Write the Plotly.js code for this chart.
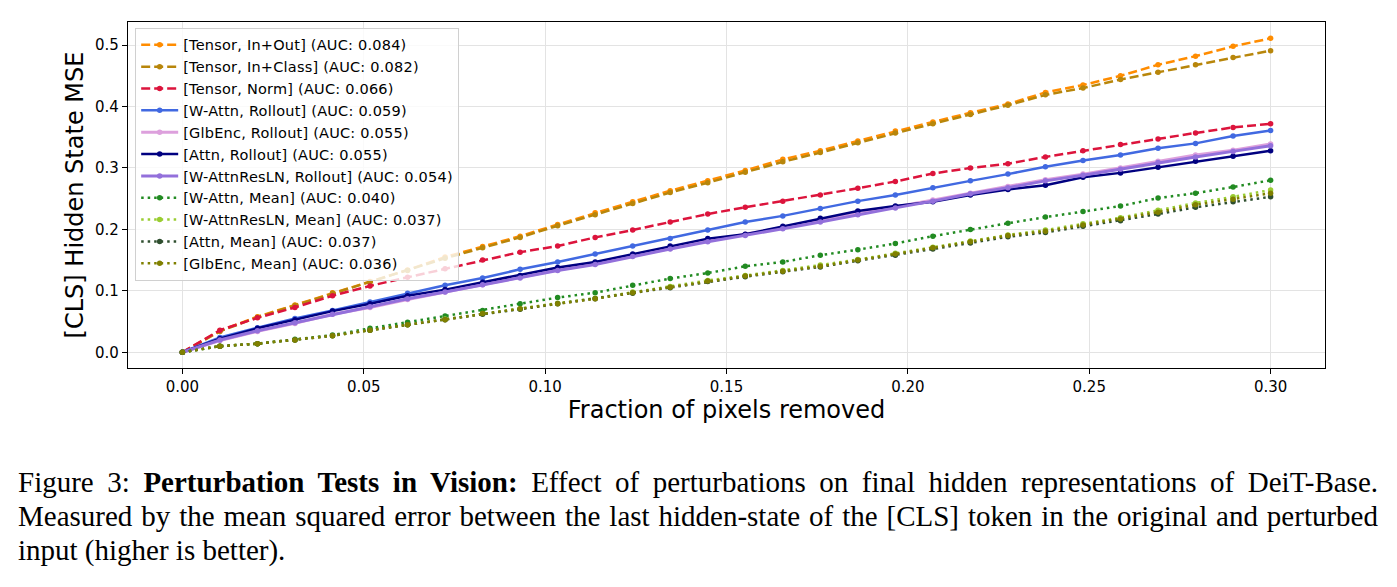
<!DOCTYPE html>
<html>
<head>
<meta charset="utf-8">
<script src="https://cdn.plot.ly/plotly-3.0.1.min.js"></script>
<style>
  html, body { margin: 0; padding: 0; background: #fff; }
  #wrap { position: relative; width: 1397px; height: 587px; overflow: hidden; }
  #chart { position: absolute; left: 0; top: 0; width: 1397px; height: 587px; }
  #caption { position: absolute; left: 18px; top: 465px; width: 1360px;
    font-family: "Liberation Serif", "DejaVu Serif", serif; font-size: 29px; line-height: 34px; color: #000; }
  .j { text-align: justify; text-align-last: justify; white-space: nowrap; }
  .l { text-align: left; white-space: nowrap; }
  .legendtext { letter-spacing: 0.22px; }
</style>
</head>
<body>
<div id="wrap">
  <div id="chart"></div>
  <div id="caption">
    <div class="j">Figure 3: <b>Perturbation Tests in Vision:</b> Effect of perturbations on final hidden representations of DeiT-Base.</div>
    <div class="j">Measured by the mean squared error between the last hidden-state of the [CLS] token in the original and perturbed</div>
    <div class="l">input (higher is better).</div>
  </div>
</div>
<script>
const fractions = [0, 0.01034, 0.02069, 0.03103, 0.04138, 0.05172, 0.06207, 0.07241, 0.08276, 0.09310,
  0.10345, 0.11379, 0.12414, 0.13448, 0.14483, 0.15517, 0.16552, 0.17586, 0.18621, 0.19655,
  0.20690, 0.21724, 0.22759, 0.23793, 0.24828, 0.25862, 0.26897, 0.27931, 0.28966, 0.30];

const tensorInOut = [0, 0.035, 0.058, 0.077, 0.097, 0.115, 0.134, 0.155, 0.172, 0.189, 0.208, 0.227, 0.245, 0.263, 0.279, 0.296, 0.314, 0.328, 0.344, 0.360, 0.375, 0.390, 0.404, 0.423, 0.435, 0.450, 0.468, 0.482, 0.498, 0.511];
const tensorInClass = [0, 0.034, 0.057, 0.076, 0.096, 0.114, 0.133, 0.153, 0.170, 0.187, 0.206, 0.224, 0.242, 0.260, 0.276, 0.293, 0.310, 0.325, 0.341, 0.357, 0.372, 0.387, 0.402, 0.419, 0.430, 0.444, 0.456, 0.468, 0.480, 0.491];
const tensorNorm = [0, 0.036, 0.056, 0.073, 0.092, 0.108, 0.122, 0.136, 0.150, 0.163, 0.173, 0.187, 0.199, 0.212, 0.225, 0.236, 0.246, 0.256, 0.267, 0.278, 0.291, 0.300, 0.307, 0.318, 0.328, 0.338, 0.347, 0.357, 0.366, 0.372];
const wAttnRollout = [0, 0.024, 0.040, 0.055, 0.068, 0.082, 0.096, 0.109, 0.121, 0.135, 0.147, 0.160, 0.173, 0.185, 0.199, 0.212, 0.222, 0.234, 0.246, 0.256, 0.268, 0.279, 0.290, 0.302, 0.312, 0.321, 0.332, 0.340, 0.352, 0.361];
const glbEncRollout = [0, 0.019, 0.034, 0.047, 0.062, 0.073, 0.086, 0.098, 0.110, 0.122, 0.134, 0.144, 0.157, 0.169, 0.181, 0.192, 0.203, 0.214, 0.226, 0.237, 0.248, 0.259, 0.270, 0.281, 0.290, 0.300, 0.311, 0.321, 0.329, 0.339];
const attnRollout = [0, 0.022, 0.039, 0.053, 0.067, 0.079, 0.092, 0.102, 0.114, 0.125, 0.138, 0.147, 0.160, 0.173, 0.185, 0.192, 0.205, 0.218, 0.230, 0.238, 0.245, 0.256, 0.265, 0.272, 0.285, 0.292, 0.301, 0.311, 0.319, 0.328];
const wAttnResLNRollout = [0, 0.020, 0.035, 0.048, 0.062, 0.074, 0.087, 0.098, 0.110, 0.121, 0.133, 0.143, 0.156, 0.168, 0.180, 0.190, 0.201, 0.212, 0.224, 0.235, 0.246, 0.258, 0.268, 0.279, 0.288, 0.298, 0.309, 0.318, 0.327, 0.336];
const wAttnMean = [0, 0.010, 0.014, 0.021, 0.028, 0.039, 0.049, 0.059, 0.068, 0.079, 0.089, 0.097, 0.109, 0.120, 0.129, 0.140, 0.147, 0.158, 0.167, 0.177, 0.189, 0.200, 0.210, 0.220, 0.229, 0.238, 0.251, 0.259, 0.269, 0.280];
const wAttnResLNMean = [0, 0.010, 0.014, 0.020, 0.027, 0.036, 0.045, 0.054, 0.063, 0.071, 0.080, 0.088, 0.098, 0.107, 0.117, 0.125, 0.133, 0.142, 0.151, 0.161, 0.171, 0.181, 0.191, 0.199, 0.209, 0.219, 0.231, 0.243, 0.253, 0.264];
const attnMean = [0, 0.010, 0.014, 0.020, 0.027, 0.036, 0.045, 0.053, 0.062, 0.070, 0.079, 0.087, 0.096, 0.105, 0.115, 0.123, 0.131, 0.139, 0.149, 0.158, 0.168, 0.178, 0.188, 0.195, 0.205, 0.214, 0.225, 0.236, 0.245, 0.253];
const glbEncMean = [0, 0.010, 0.014, 0.020, 0.027, 0.036, 0.045, 0.053, 0.063, 0.071, 0.079, 0.087, 0.097, 0.106, 0.116, 0.124, 0.132, 0.140, 0.150, 0.160, 0.170, 0.180, 0.190, 0.197, 0.207, 0.217, 0.228, 0.240, 0.249, 0.259];

const seriesNames = [
  "[Tensor, In+Out] (AUC: 0.084)",
  "[Tensor, In+Class] (AUC: 0.082)",
  "[Tensor, Norm] (AUC: 0.066)",
  "[W-Attn, Rollout] (AUC: 0.059)",
  "[GlbEnc, Rollout] (AUC: 0.055)",
  "[Attn, Rollout] (AUC: 0.055)",
  "[W-AttnResLN, Rollout] (AUC: 0.054)",
  "[W-Attn, Mean] (AUC: 0.040)",
  "[W-AttnResLN, Mean] (AUC: 0.037)",
  "[Attn, Mean] (AUC: 0.037)",
  "[GlbEnc, Mean] (AUC: 0.036)"
];
const seriesValues = [tensorInOut, tensorInClass, tensorNorm, wAttnRollout, glbEncRollout, attnRollout,
  wAttnResLNRollout, wAttnMean, wAttnResLNMean, attnMean, glbEncMean];
const seriesColors = ["#FF8C00", "#B8860B", "#DC143C", "#4169E1", "#DDA0DD", "#000080", "#9370DB",
  "#228B22", "#9ACD32", "#2F4F2F", "#808000"];
const seriesDash = ["9px,4px", "9px,4px", "9px,4px", "solid", "solid", "solid", "solid",
  "2.5px,4px", "2.5px,4px", "2.5px,4px", "2.5px,4px"];
const seriesWidth = [2.5, 2.5, 2.5, 2.5, 3, 2.5, 3, 2.5, 2.5, 2.5, 2.5];

const traces = seriesNames.map((name, k) => ({
  type: "scatter",
  mode: "lines+markers",
  name: name,
  x: fractions,
  y: seriesValues[k],
  line: { color: seriesColors[k], width: seriesWidth[k], dash: seriesDash[k] },
  marker: { color: seriesColors[k], size: 5.5, symbol: "circle" }
}));

const axisFont = { family: "DejaVu Sans", size: 15, color: "#000" };
const layout = {
  width: 1397, height: 587,
  margin: { l: 128, r: 72, t: 22, b: 219 },
  paper_bgcolor: "rgba(0,0,0,0)",
  plot_bgcolor: "#fff",
  showlegend: true,
  legend: {
    x: 0.006, y: 0.983, xanchor: "left", yanchor: "top",
    bgcolor: "rgba(255,255,255,0.8)", bordercolor: "#d0d0d0", borderwidth: 1,
    font: { family: "DejaVu Sans", size: 14.5, color: "#000" },
    tracegroupgap: 0, itemwidth: 37
  },
  xaxis: {
    range: [-0.015, 0.315],
    tickvals: [0, 0.05, 0.10, 0.15, 0.20, 0.25, 0.30],
    ticktext: ["0.00", "0.05", "0.10", "0.15", "0.20", "0.25", "0.30"],
    ticks: "outside", ticklen: 5, tickwidth: 1, tickcolor: "#000",
    showgrid: true, gridcolor: "#e3e3e3", gridwidth: 1,
    zeroline: false, showline: true, linecolor: "#000", linewidth: 1.2, mirror: true,
    tickfont: axisFont,
    title: { text: "Fraction of pixels removed", font: { family: "DejaVu Sans", size: 24, color: "#000" }, standoff: 5 }
  },
  yaxis: {
    range: [-0.0256, 0.5376],
    tickvals: [0, 0.1, 0.2, 0.3, 0.4, 0.5],
    ticktext: ["0.0", "0.1", "0.2", "0.3", "0.4", "0.5"],
    ticks: "outside", ticklen: 5, tickwidth: 1, tickcolor: "#000",
    showgrid: true, gridcolor: "#e3e3e3", gridwidth: 1,
    zeroline: false, showline: true, linecolor: "#000", linewidth: 1.2, mirror: true,
    tickfont: axisFont,
    title: { text: "[CLS] Hidden State MSE", font: { family: "DejaVu Sans", size: 24, color: "#000" }, standoff: 4 }
  }
};

Plotly.newPlot("chart", traces, layout, { displayModeBar: false, staticPlot: true });
</script>
</body>
</html>
